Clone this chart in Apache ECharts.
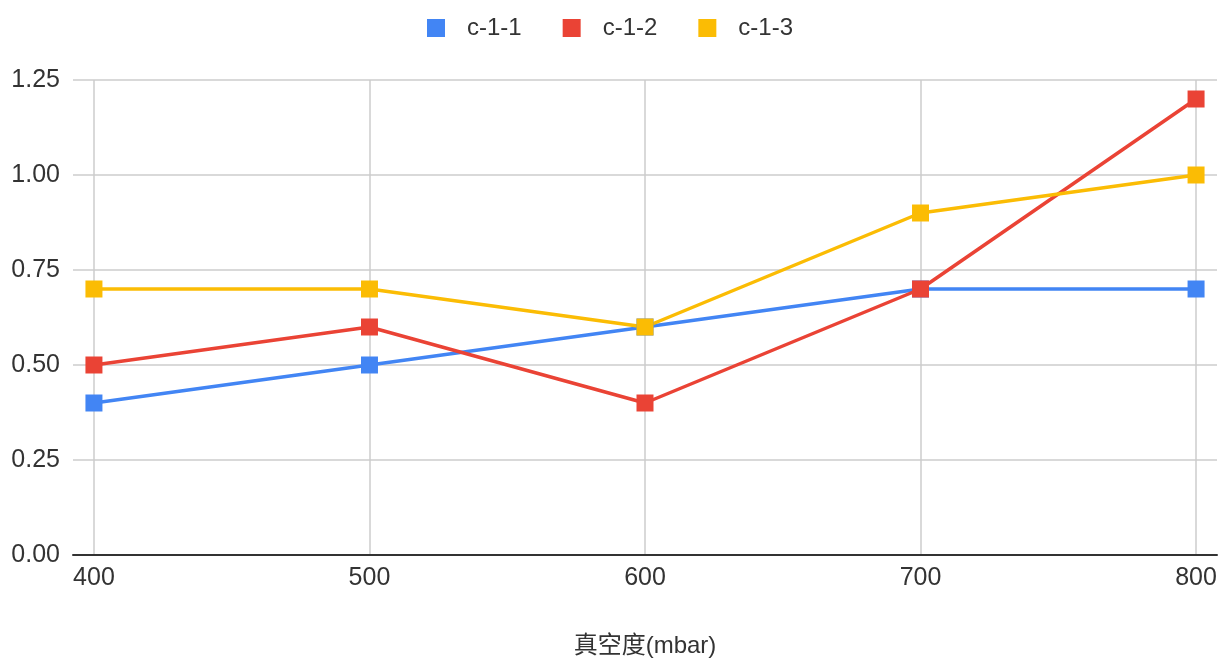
<!DOCTYPE html>
<html>
<head>
<meta charset="utf-8">
<style>
  html, body { margin: 0; padding: 0; background: #fff; }
  #chart { width: 1220px; height: 663px; }
</style>
<script src="https://cdn.jsdelivr.net/npm/echarts@6/dist/echarts.min.js"></script>
</head>
<body>
<div id="chart"></div>
<script>
// Vacuum levels (mbar) on the x axis
const pressures = [400, 500, 600, 700, 800];
const seriesNames = ['c-1-1', 'c-1-2', 'c-1-3'];
const c11 = [0.4, 0.5, 0.6, 0.7, 0.7];
const c12 = [0.5, 0.6, 0.4, 0.7, 1.2];
const c13 = [0.7, 0.7, 0.6, 0.9, 1.0];
const yTicks = [0, 0.25, 0.5, 0.75, 1.0, 1.25];
const xTitle = '真空度(mbar)';

const colors = ['#4285F4', '#EA4335', '#FBBC04'];
const font = '"Liberation Sans", Arial, "Noto Sans CJK SC", sans-serif';
const textColor = '#333';

function pairs(values) {
  return pressures.map((p, i) => [p, values[i]]);
}

const chart = echarts.init(document.getElementById('chart'));
chart.setOption({
  animation: false,
  color: colors,
  textStyle: { fontFamily: font },
  legend: {
    top: 11,
    left: 'center',
    icon: 'rect',
    itemWidth: 18,
    itemHeight: 18,
    itemGap: 41,
    data: seriesNames,
    textStyle: { fontSize: 24, color: textColor, fontFamily: font, padding: [0, 0, 0, 17] }
  },
  grid: { left: 73, right: 3, top: 80, bottom: 104, containLabel: false },
  xAxis: {
    type: 'value',
    min: 392.4,
    max: 807.6,
    name: xTitle,
    nameLocation: 'middle',
    nameGap: 79,
    nameTextStyle: { fontSize: 24, color: textColor, fontFamily: font },
    axisLine: { show: true, onZero: false, lineStyle: { color: '#333', width: 2 } },
    axisTick: { show: false, customValues: pressures },
    axisLabel: {
      customValues: pressures,
      fontSize: 25, color: textColor, margin: 11, fontFamily: font
    },
    splitLine: { show: true, lineStyle: { color: '#ccc', width: 1.5 } }
  },
  yAxis: {
    type: 'value',
    min: yTicks[0],
    max: yTicks[yTicks.length - 1],
    interval: 0.25,
    axisLine: { show: false },
    axisTick: { show: false },
    axisLabel: {
      fontSize: 25, color: textColor, margin: 13, fontFamily: font,
      formatter: v => v.toFixed(2)
    },
    splitLine: { show: true, lineStyle: { color: '#ccc', width: 1.5 } }
  },
  series: [c11, c12, c13].map((vals, i) => ({
    name: seriesNames[i],
    type: 'line',
    data: pairs(vals),
    symbol: 'rect',
    symbolSize: 17,
    lineStyle: { width: 3.5 },
    itemStyle: { color: colors[i] },
    emphasis: { disabled: true }
  }))
});
</script>
</body>
</html>
